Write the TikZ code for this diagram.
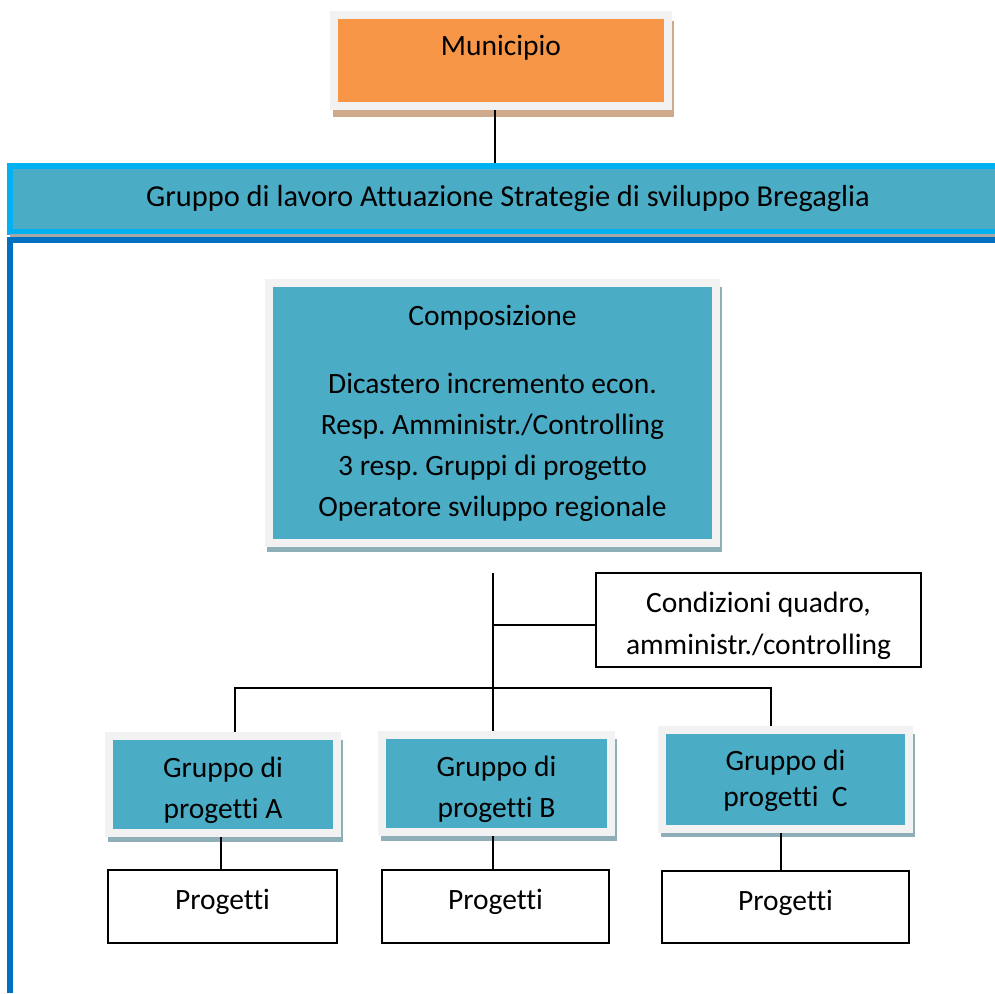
\documentclass[tikz,border=0pt]{standalone}
\usepackage{fontspec}
\setmainfont{Carlito}[Ligatures=NoCommon]
\usetikzlibrary{backgrounds}
\definecolor{orangeF}{HTML}{F79646}
\definecolor{tealF}{HTML}{4BACC6}
\definecolor{frameF}{HTML}{F2F2F2}
\definecolor{tanS}{HTML}{CFA98B}
\definecolor{blueS}{HTML}{8EAEB8}
\definecolor{bandO}{HTML}{00B0F0}
\definecolor{darkB}{HTML}{0070C0}
\definecolor{grayL}{HTML}{A6A6A6}
\newcommand{\mvtext}[2]{\raisebox{#1}[\height][\depth]{\begin{tabular}{@{}c@{}}#2\end{tabular}}}
\frenchspacing
\begin{document}
\begin{tikzpicture}[x=1pt,y=-1pt,
  every node/.style={font=\fontsize{29.5}{41}\selectfont, text=black},
  framed/.style={draw=frameF, line width=8pt, inner sep=0pt, align=center},
  plainbox/.style={draw=black, line width=1.5pt, fill=white, inner sep=0pt, align=center},
  conn/.style={draw=black, line width=1.5pt},
]
\clip (0,0) rectangle (995,993);

% Municipio
\node[framed, fill=orangeF, minimum width=334pt, minimum height=91pt,
      text height=40pt, text depth=51pt] (mun) at (501,60.5) {Municipio};

% band
\node[draw=bandO, fill=tealF, line width=6pt, inner sep=0pt,
      minimum width=996pt, minimum height=65.5pt, font=\fontsize{30.4}{41}\selectfont] (band) at (508,198.75)
      {Gruppo di lavoro Attuazione Strategie di sviluppo Bregaglia};
\fill[grayL] (10,234) rectangle (995,237);
\fill[darkB] (7,237) rectangle (995,243);
\fill[darkB] (7,237) rectangle (13,993);

% Composizione
\node[framed, fill=tealF, minimum width=447pt, minimum height=260pt] (comp) at (492.5,413)
  {Composizione\\[27pt]Dicastero incremento econ.\\Resp. Amministr./Controlling\\3 resp. Gruppi di progetto\\Operatore sviluppo regionale};

% Condizioni
\node[plainbox, minimum width=325pt, minimum height=94pt, font=\fontsize{29.5}{42}\selectfont] (cond) at (758.5,620)
  {\mvtext{-5.5pt}{Condizioni quadro,\\amministr./controlling}};

% groups
\node[framed, fill=tealF, minimum width=228pt, minimum height=97pt] (ga) at (223,784.5)
  {\mvtext{-5.5pt}{Gruppo di\\progetti A}};
\node[framed, fill=tealF, minimum width=229pt, minimum height=97pt] (gb) at (496.5,783.5)
  {\mvtext{-5.5pt}{Gruppo di\\progetti B}};
\node[framed, fill=tealF, minimum width=247pt, minimum height=99pt,
      font=\fontsize{29.5}{36}\selectfont] (gc) at (785.5,779.5)
  {\mvtext{-2pt}{Gruppo di\\progetti\ \ C}};

% projects
\node[plainbox, minimum width=229pt, minimum height=73pt] (pa) at (222.5,906.5) {\mvtext{5pt}{Progetti}};
\node[plainbox, minimum width=227pt, minimum height=73pt] (pb) at (495.5,906.5) {\mvtext{5pt}{Progetti}};
\node[plainbox, minimum width=247pt, minimum height=72pt] (pc) at (785.5,907) {\mvtext{5pt}{Progetti}};

\begin{pgfonlayer}{background}
  \fill[white] (0,0) rectangle (995,993);
  \fill[tanS] ([shift={(3pt,-7pt)}]mun.south west) rectangle ([shift={(2pt,-10pt)}]mun.north east);
  \fill[blueS] ([shift={(2pt,-5pt)}]comp.south west) rectangle ([shift={(2pt,-8pt)}]comp.north east);
  \fill[blueS] ([shift={(3pt,-5pt)}]ga.south west) rectangle ([shift={(2pt,-8pt)}]ga.north east);
  \fill[blueS] ([shift={(3pt,-5pt)}]gb.south west) rectangle ([shift={(2pt,-8pt)}]gb.north east);
  \fill[blueS] ([shift={(3pt,-4pt)}]gc.south west) rectangle ([shift={(2pt,-8pt)}]gc.north east);

  \draw[conn] ([xshift=-6pt]mun.south) -- ([xshift=-6pt]mun.south |- band.north);
  \coordinate (cj) at (493,573);
  \coordinate (bus) at (493,688);
  \draw[conn] (cj) -- (cj |- gb.north);
  \draw[conn] ([yshift=-5pt]cj |- cond.west) -- ([yshift=-5pt]cond.west);
  \draw[conn] ([xshift=12pt]ga.north) |- (bus) -| ([xshift=-14.5pt]gc.north);
  \draw[conn] ([xshift=-1.5pt]pa.north |- ga.south) -- ([xshift=-1.5pt]pa.north);
  \draw[conn] ([xshift=-2.5pt]pb.north |- gb.south) -- ([xshift=-2.5pt]pb.north);
  \draw[conn] ([xshift=-4.5pt]pc.north |- gc.south) -- ([xshift=-4.5pt]pc.north);
\end{pgfonlayer}
\end{tikzpicture}
\end{document}
